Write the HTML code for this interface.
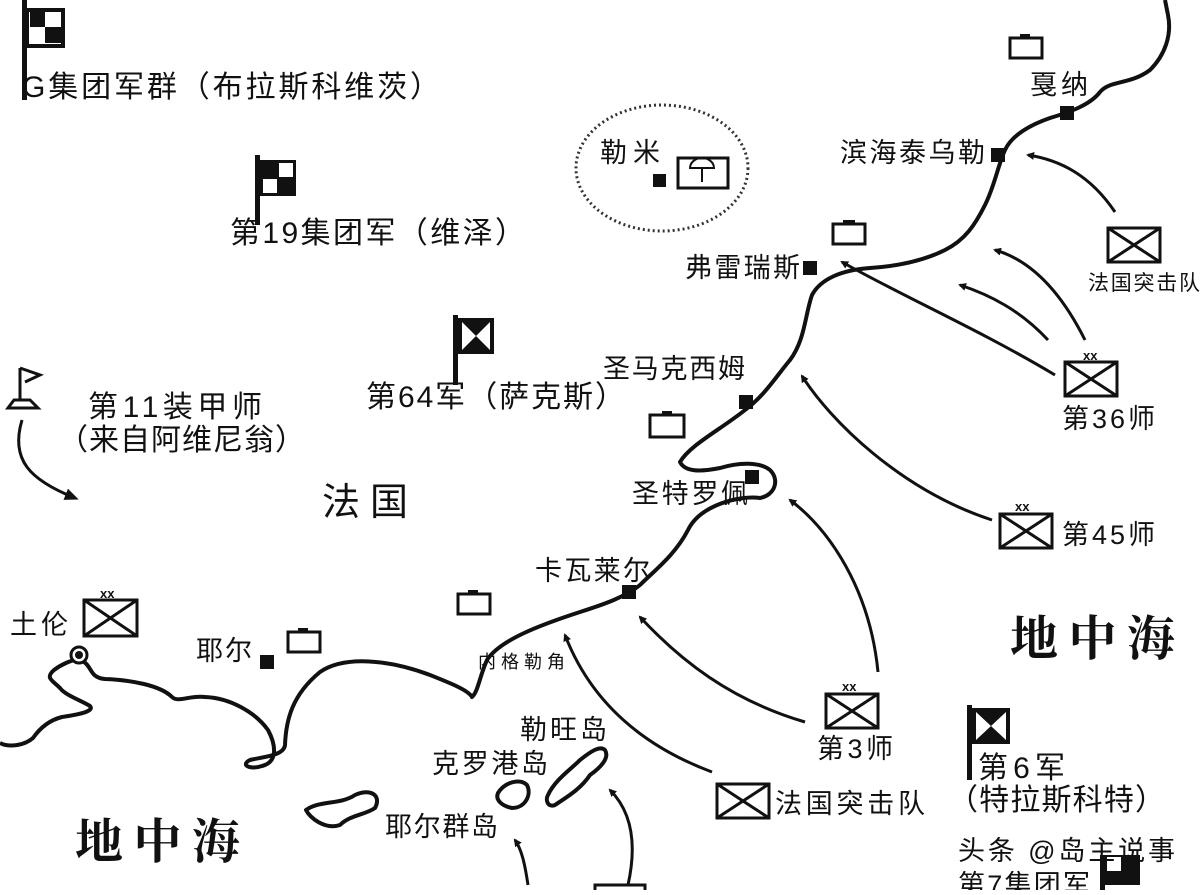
<!DOCTYPE html>
<html><head><meta charset="utf-8"><style>
body{margin:0;background:#fff;width:1200px;height:890px;overflow:hidden}
svg text{font-family:"Liberation Sans","Noto Sans CJK SC",sans-serif;fill:#111}
</style></head><body>
<svg width="1200" height="890" viewBox="0 0 1200 890" xmlns="http://www.w3.org/2000/svg">
<defs><marker id="a" markerWidth="8" markerHeight="8" refX="6" refY="4" orient="auto" markerUnits="userSpaceOnUse"><path d="M0,0 L8,4 L0,8 Z" fill="#111"/></marker>
<marker id="b" markerWidth="14" markerHeight="12" refX="10" refY="6" orient="auto" markerUnits="userSpaceOnUse"><path d="M0,0 L14,6 L0,12 Z" fill="#111"/></marker></defs>
<g fill="none" stroke="#111" stroke-width="4" stroke-linejoin="round">
<path d="M0,743 C10,748 25,745 33,738 C40,728 50,720 62,717 C75,715 95,712 90,706 C80,700 65,695 60,688 C52,680 45,678 54,670 C62,664 72,660 76,660"/>
<path d="M84,662 C92,667 90,678 105,679 C130,680 160,685 172,697 C178,703 190,695 205,697 C230,698 255,712 268,730 C276,745 278,762 262,766 C250,770 240,765 250,760 C262,757 284,756 285,745 C286,720 292,695 320,672 C345,655 390,660 430,675 C450,683 468,690 472,697 C478,692 480,675 487,660 C500,640 540,625 580,612 C605,604 625,597 640,585 C655,570 675,555 688,530 C700,505 740,495 760,498 C775,495 780,480 770,470 C760,462 740,462 720,468 C700,472 685,472 680,462 C690,445 720,430 745,410 C765,395 775,378 790,360 C805,340 805,315 812,295 C820,280 840,270 870,268 C900,266 925,260 945,250 C965,240 975,225 985,205 C995,185 998,165 1005,150 C1012,135 1030,125 1050,118 C1070,112 1090,105 1100,92 C1110,80 1130,85 1150,70 C1165,55 1172,35 1168,15 L1165,0"/>
<path d="M306,810 C320,800 340,805 355,795 C370,788 382,795 375,808 C365,815 350,815 340,825 C325,830 310,818 306,810 Z"/>
<path d="M498,793 C505,782 520,778 527,785 C532,795 525,808 512,808 C502,806 495,800 498,793 Z"/>
<path d="M548,795 C555,780 570,770 580,760 C590,752 600,745 605,750 C610,758 600,768 590,775 C580,790 565,798 555,805 C548,808 545,800 548,795 Z"/>
</g>
<g fill="none" stroke="#111" stroke-width="3">
<path d="M1115,212 C1090,175 1060,160 1028,155" marker-end="url(#a)"/>
<path d="M1085,340 C1060,290 1030,260 995,250" marker-end="url(#a)"/>
<path d="M1048,340 C1020,310 990,295 960,285" marker-end="url(#a)"/>
<path d="M1055,375 C980,330 900,295 842,262" marker-end="url(#a)"/>
<path d="M992,520 C900,490 830,420 802,376" marker-end="url(#a)"/>
<path d="M878,672 C870,590 830,530 790,500" marker-end="url(#a)"/>
<path d="M805,722 C730,700 680,660 640,617" marker-end="url(#a)"/>
<path d="M712,772 C640,745 590,700 565,635" marker-end="url(#a)"/>
<path d="M628,885 C638,840 630,810 610,790" marker-end="url(#a)"/>
<path d="M528,885 C525,865 522,850 515,840" marker-end="url(#a)"/>
<path d="M22,420 C10,460 30,480 75,498" marker-end="url(#b)"/>
</g>
<ellipse cx="662" cy="168" rx="86" ry="63" fill="none" stroke="#333" stroke-width="3" stroke-dasharray="2,3"/>
<g fill="#111">
<rect x="22" y="0" width="5" height="100"/><rect x="27" y="10" width="36" height="36" fill="none" stroke="#111" stroke-width="4"/><rect x="30" y="12" width="15" height="15"/><rect x="45" y="27" width="16" height="16"/>
<rect x="255" y="155" width="5" height="70"/><rect x="260" y="160" width="36" height="36"/><rect x="279" y="163" width="14" height="14" fill="#fff"/><rect x="263" y="179" width="14" height="14" fill="#fff"/>
<rect x="453" y="315" width="5" height="70"/><rect x="458" y="318" width="36" height="36"/><path d="M462,322 L476,336 L462,350Z M490,322 L476,336 L490,350Z" fill="#fff"/>
<rect x="967" y="705" width="5" height="75"/><rect x="972" y="708" width="38" height="36"/><path d="M976,712 L991,726 L976,740Z M1006,712 L991,726 L1006,740Z" fill="#fff"/>
<rect x="1100" y="855" width="5" height="35"/><rect x="1105" y="855" width="35" height="30"/><rect x="1107" y="857" width="14" height="14" fill="#fff"/>
</g>
<path d="M20,368 L20,400 M20,368 L40,375 L25,382 M8,408 L38,408 L30,400 L14,400 Z" fill="none" stroke="#111" stroke-width="3"/>
<g fill="none" stroke="#111" stroke-width="3">
<rect x="84" y="600" width="53" height="36"/><path d="M84,600 L137,636 M137,600 L84,636"/>
<rect x="1108" y="228" width="52" height="34"/><path d="M1108,228 L1160,262 M1160,228 L1108,262"/>
<rect x="1065" y="362" width="52" height="34"/><path d="M1065,362 L1117,396 M1117,362 L1065,396"/>
<rect x="1000" y="514" width="52" height="34"/><path d="M1000,514 L1052,548 M1052,514 L1000,548"/>
<rect x="826" y="694" width="52" height="34"/><path d="M826,694 L878,728 M878,694 L826,728"/>
<rect x="717" y="784" width="52" height="34"/><path d="M717,784 L769,818 M769,784 L717,818"/>
<rect x="678" y="158" width="50" height="30"/>
<rect x="1010" y="38" width="32" height="20"/><rect x="833" y="224" width="32" height="20"/><rect x="650" y="415" width="34" height="22"/><rect x="458" y="594" width="32" height="20"/><rect x="288" y="632" width="32" height="20"/>
<rect x="595" y="885" width="50" height="10"/>
</g>
<path d="M690,168 a12,10 0 0 1 24,0 Z M702,168 L702,182" fill="none" stroke="#111" stroke-width="2"/>
<g fill="#111">
<rect x="1020" y="34" width="10" height="5"/><rect x="843" y="220" width="12" height="5"/><rect x="662" y="411" width="10" height="5"/><rect x="468" y="590" width="10" height="5"/><rect x="298" y="628" width="10" height="5"/>
<rect x="653" y="174" width="13" height="13"/><rect x="1060" y="106" width="14" height="14"/><rect x="991" y="148" width="14" height="14"/><rect x="803" y="261" width="14" height="14"/><rect x="739" y="395" width="14" height="14"/><rect x="745" y="470" width="14" height="14"/><rect x="622" y="585" width="14" height="14"/><rect x="260" y="655" width="14" height="14"/>
</g>
<circle cx="79" cy="655" r="8" fill="#fff" stroke="#111" stroke-width="3"/><circle cx="79" cy="655" r="4" fill="#111"/>
<g font-size="13" font-weight="bold">
<text x="100" y="598">xx</text><text x="1083" y="360">xx</text><text x="1015" y="511">xx</text><text x="842" y="691">xx</text>
</g>
<g font-size="30" lengthAdjust="spacingAndGlyphs">
<text x="22" y="97" textLength="418">G集团军群（布拉斯科维茨）</text>
<text x="230" y="243" textLength="295">第19集团军（维泽）</text>
<text x="366" y="407" textLength="259">第64军（萨克斯）</text>
<text x="88" y="417" textLength="174">第11装甲师</text>
<text x="58" y="450" textLength="247">（来自阿维尼翁）</text>
<text x="322" y="515" font-size="38" textLength="86">法国</text>
<text x="978" y="778" textLength="87">第6军</text>
<text x="948" y="810" textLength="217">（特拉斯科特）</text>
</g>
<g font-size="27" lengthAdjust="spacingAndGlyphs">
<text x="600" y="162" textLength="60">勒米</text>
<text x="1030" y="94" textLength="58">戛纳</text>
<text x="840" y="162" textLength="145">滨海泰乌勒</text>
<text x="685" y="277" textLength="115">弗雷瑞斯</text>
<text x="603" y="378" textLength="142">圣马克西姆</text>
<text x="632" y="503" textLength="116">圣特罗佩</text>
<text x="535" y="580" textLength="115">卡瓦莱尔</text>
<text x="10" y="634" textLength="58">土伦</text>
<text x="196" y="660" textLength="56">耶尔</text>
<text x="520" y="739" textLength="87">勒旺岛</text>
<text x="432" y="773" textLength="116">克罗港岛</text>
<text x="385" y="836" textLength="113">耶尔群岛</text>
<text x="1062" y="428" textLength="93">第36师</text>
<text x="1062" y="544" textLength="93">第45师</text>
<text x="817" y="758" textLength="76">第3师</text>
<text x="775" y="813" textLength="150">法国突击队</text>
<text x="958" y="860" textLength="217" fill="#222">头条 @岛主说事</text>
<text x="958" y="894" textLength="132">第7集团军</text>
<text x="1088" y="290" font-size="21" textLength="112">法国突击队</text>
<text x="478" y="668" font-size="18" textLength="87">内格勒角</text>
</g>
<g font-weight="bold" font-size="48" lengthAdjust="spacingAndGlyphs">
<text x="75" y="858" textLength="165" style="font-family:'Noto Serif CJK SC',serif">地中海</text>
<text x="1010" y="655" textLength="165" style="font-family:'Noto Serif CJK SC',serif">地中海</text>
</g>
</svg>
</body></html>
